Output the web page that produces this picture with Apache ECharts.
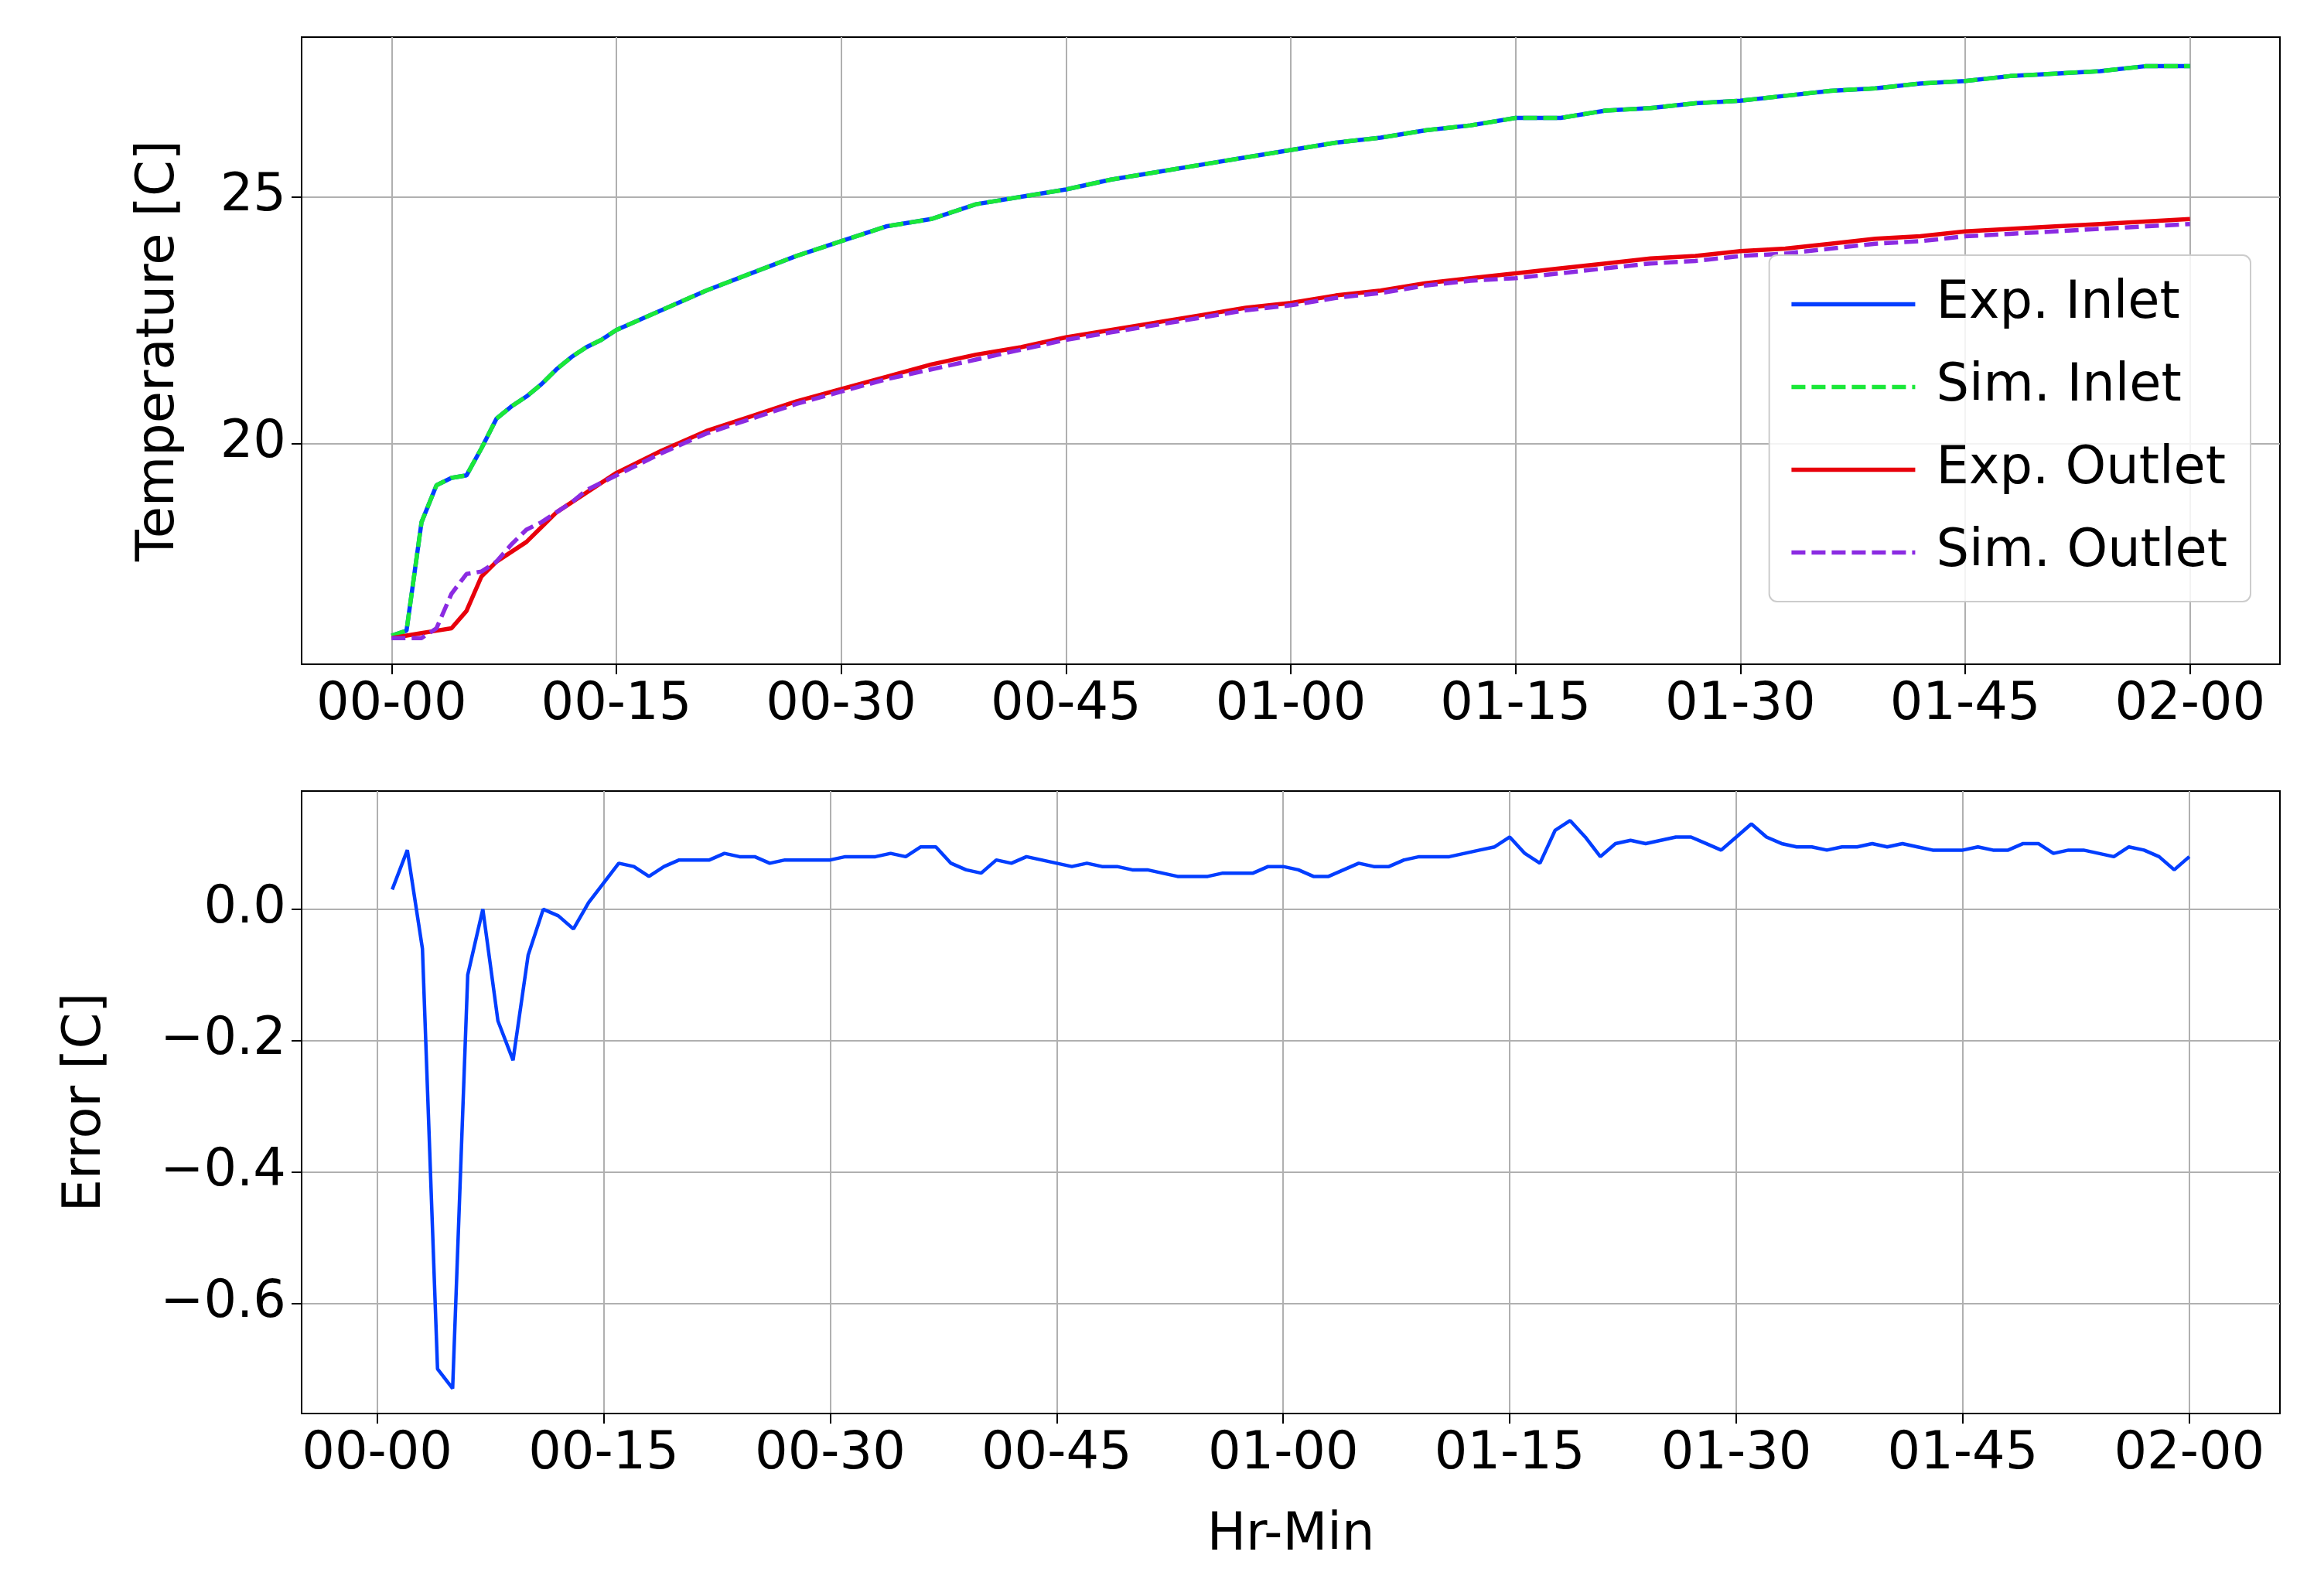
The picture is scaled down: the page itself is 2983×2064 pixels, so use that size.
<!DOCTYPE html>
<html>
<head>
<meta charset="utf-8">
<script src="https://cdn.jsdelivr.net/npm/echarts@6/dist/echarts.min.js"></script>
<style>
html,body{margin:0;padding:0;background:#fff}
#chart{width:2983px;height:2064px}
</style>
</head>
<body>
<div id="chart"></div>
<script>
// minutes since start
var tempMinutes = [0,1,2,3,4,5,6,7,8,9,10,11,12,13,14,15,
	18,21,24,27,30,33,36,39,42,45,48,51,54,57,60,63,66,69,72,75,78,81,84,87,90,93,96,99,102,105,108,111,114,117,120];
var expInlet = [16.1,16.2,18.4,19.15,19.3,19.35,19.9,20.5,20.75,20.95,21.2,21.5,21.75,21.95,22.1,22.3,
	22.7,23.1,23.45,23.8,24.1,24.4,24.55,24.85,25.0,25.15,25.35,25.5,25.65,25.8,25.95,26.1,26.2,26.35,26.45,26.6,26.6,26.75,26.8,26.9,26.95,27.05,27.15,27.2,27.3,27.35,27.45,27.5,27.55,27.65,27.65];
var simInlet = [16.1,16.2,18.4,19.15,19.3,19.35,19.9,20.5,20.75,20.95,21.2,21.5,21.75,21.95,22.1,22.3,
	22.7,23.1,23.45,23.8,24.1,24.4,24.55,24.85,25.0,25.15,25.35,25.5,25.65,25.8,25.95,26.1,26.2,26.35,26.45,26.6,26.6,26.75,26.8,26.9,26.95,27.05,27.15,27.2,27.3,27.35,27.45,27.5,27.55,27.65,27.65];
var expOutlet = [16.05,16.1,16.15,16.2,16.25,16.6,17.3,17.6,17.8,18.0,18.3,18.6,18.8,19.0,19.2,19.4,
	19.85,20.25,20.55,20.85,21.1,21.35,21.6,21.8,21.95,22.15,22.3,22.45,22.6,22.75,22.85,23.0,23.1,23.25,23.35,23.45,23.55,23.65,23.75,23.8,23.9,23.95,24.05,24.15,24.2,24.3,24.35,24.4,24.45,24.5,24.55];
var simOutlet = [16.05,16.05,16.05,16.25,16.95,17.35,17.4,17.6,17.95,18.25,18.4,18.6,18.8,19.05,19.2,19.35,
	19.8,20.2,20.5,20.8,21.05,21.3,21.5,21.7,21.9,22.1,22.25,22.4,22.55,22.7,22.8,22.95,23.05,23.2,23.3,23.35,23.45,23.55,23.65,23.7,23.8,23.85,23.95,24.05,24.1,24.2,24.25,24.3,24.35,24.4,24.45];
// error, one value per minute from minute 1 to 120
var errorValues = [
	0.03,0.09,-0.06,-0.70,-0.73,-0.10,0.00,-0.17,-0.23,-0.07,
	0.00,-0.01,-0.03,0.01,0.04,0.07,0.065,0.05,0.065,0.075,
	0.075,0.075,0.085,0.08,0.08,0.07,0.075,0.075,0.075,0.075,
	0.08,0.08,0.08,0.085,0.08,0.095,0.095,0.07,0.06,0.055,
	0.075,0.07,0.08,0.075,0.07,0.065,0.07,0.065,0.065,0.06,
	0.06,0.055,0.05,0.05,0.05,0.055,0.055,0.055,0.065,0.065,
	0.06,0.05,0.05,0.06,0.07,0.065,0.065,0.075,0.08,0.08,
	0.08,0.085,0.09,0.095,0.11,0.085,0.07,0.12,0.135,0.11,
	0.08,0.10,0.105,0.10,0.105,0.11,0.11,0.10,0.09,0.11,
	0.13,0.11,0.10,0.095,0.095,0.09,0.095,0.095,0.10,0.095,
	0.10,0.095,0.09,0.09,0.09,0.095,0.09,0.09,0.10,0.10,
	0.085,0.09,0.09,0.085,0.08,0.095,0.09,0.08,0.06,0.08];
var xTicks = [0,15,30,45,60,75,90,105,120];
var tempTicks = [20,25];
var errTicks = [-0.6,-0.4,-0.2,0.0];

function pair(xs, ys) { return xs.map(function (x, i) { return [x, ys[i]]; }); }
function fmtTime(v) {
	var h = Math.floor(v / 60), m = Math.round(v - h * 60);
	return (h < 10 ? '0' : '') + h + '-' + (m < 10 ? '0' : '') + m;
}
var errData = errorValues.map(function (v, i) { return [i + 1, v]; });

var font = 'DejaVu Sans';
var fs = 67;
var gridLine = { show: true, lineStyle: { color: '#b0b0b0', width: 2 } };
var tick = { show: true, length: 13, lineStyle: { color: '#000', width: 2 } };
var axisLine = { show: true, onZero: false, lineStyle: { color: '#000', width: 2 } };

function xAxis(idx, min, showName) {
	return {
		type: 'value', gridIndex: idx, min: min, max: 126,
		axisLine: axisLine,
		axisTick: Object.assign({ customValues: xTicks }, tick),
		axisLabel: { customValues: xTicks, formatter: fmtTime, fontFamily: font, fontSize: fs, color: '#000', margin: 20 },
		splitLine: gridLine,
		name: showName ? 'Hr-Min' : '', nameLocation: 'middle', nameGap: 125,
		nameTextStyle: { fontFamily: font, fontSize: fs, color: '#000' }
	};
}
function yAxis(idx, min, max, ticks, name, gap, fmt) {
	return {
		type: 'value', gridIndex: idx, min: min, max: max,
		axisLine: axisLine,
		axisTick: Object.assign({ customValues: ticks }, tick),
		axisLabel: { customValues: ticks, formatter: fmt, fontFamily: font, fontSize: fs, color: '#000', margin: 20 },
		splitLine: gridLine,
		name: name, nameLocation: 'middle', nameGap: gap,
		nameTextStyle: { fontFamily: font, fontSize: fs, color: '#000' }
	};
}
function line(name, data, color, dashed, xi, w) {
	return {
		name: name, type: 'line', data: data, xAxisIndex: xi, yAxisIndex: xi,
		showSymbol: false, symbol: 'none', animation: false,
		lineStyle: { color: color, width: w || 5.5, type: dashed ? [18, 8] : 'solid' },
		itemStyle: { color: color }
	};
}

var chart = echarts.init(document.getElementById('chart'));
chart.setOption({
	backgroundColor: '#fff',
	animation: false,
	grid: [
		{ left: 390, right: 35, top: 48, height: 811, show: true, borderColor: '#000', borderWidth: 2 },
		{ left: 390, right: 35, top: 1023, height: 805, show: true, borderColor: '#000', borderWidth: 2 }
	],
	legend: {
		orient: 'vertical', right: 73, top: 330,
		data: ['Exp. Inlet', 'Sim. Inlet', 'Exp. Outlet', 'Sim. Outlet'],
		itemWidth: 160, itemHeight: 20, itemGap: 40,
		padding: [30, 30, 30, 26],
		itemStyle: { opacity: 0 },
		lineStyle: { width: 5.5 },
		backgroundColor: 'rgba(255,255,255,0.85)', borderColor: '#ccc', borderWidth: 2, borderRadius: 10,
		textStyle: { fontFamily: font, fontSize: fs, color: '#000', padding: [0, 0, 0, 22] }
	},
	xAxis: [xAxis(0, -6, false), xAxis(1, -5, true)],
	yAxis: [
		yAxis(0, 15.52, 28.24, tempTicks, 'Temperature [C]', 150, function (v) { return String(v); }),
		yAxis(1, -0.768, 0.18, errTicks, 'Error [C]', 245, function (v) { return v < 0 ? '\u2212' + Math.abs(v).toFixed(1) : v.toFixed(1); })
	],
	series: [
		line('Exp. Inlet', pair(tempMinutes, expInlet), '#023eff', false, 0),
		line('Sim. Inlet', pair(tempMinutes, simInlet), '#1ae838', true, 0),
		line('Exp. Outlet', pair(tempMinutes, expOutlet), '#e8000b', false, 0),
		line('Sim. Outlet', pair(tempMinutes, simOutlet), '#8b2be2', true, 0),
		line('Error', errData, '#023eff', false, 1, 4.5)
	]
});
</script>
</body>
</html>
